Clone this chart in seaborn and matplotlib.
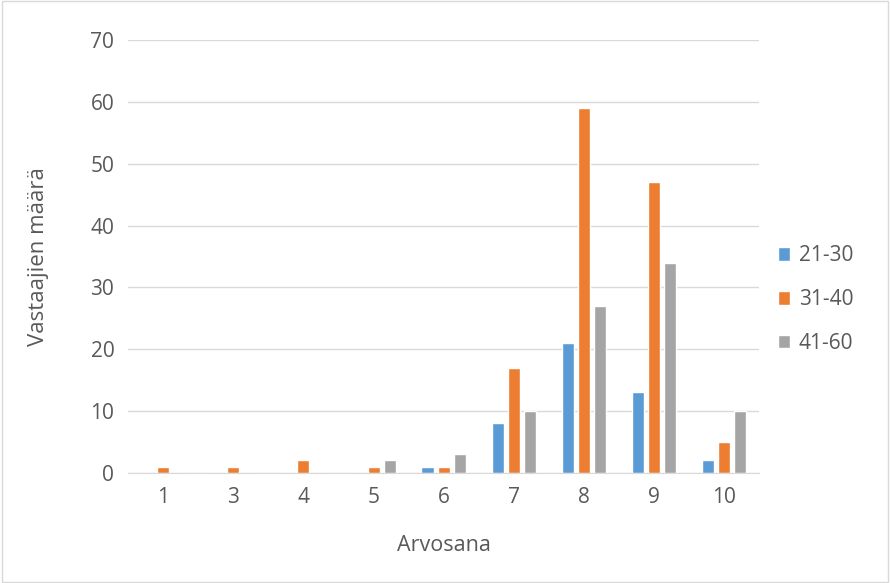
import pandas as pd
import matplotlib.pyplot as plt
import seaborn as sns
from matplotlib.patches import Rectangle

# Data
grades = ['1', '3', '4', '5', '6', '7', '8', '9', '10']
age_21_30 = [0, 0, 0, 0, 1, 8, 21, 13, 2]
age_31_40 = [1, 1, 2, 1, 1, 17, 59, 47, 5]
age_41_60 = [0, 0, 0, 2, 3, 10, 27, 34, 10]
groups = ['21-30', '31-40', '41-60']
colors = ['#5B9BD5', '#ED7D31', '#A5A5A5']

df = pd.DataFrame({
    'Arvosana': grades * 3,
    'Ryhmä': [g for g in groups for _ in grades],
    'Määrä': age_21_30 + age_31_40 + age_41_60,
})

sns.set_style('white')
plt.rcParams['font.family'] = ['Open Sans', 'DejaVu Sans']

fig = plt.figure(figsize=(8.9, 5.83), dpi=100)
ax = fig.add_axes([0.144, 0.189, 0.709, 0.742])

sns.barplot(data=df, x='Arvosana', y='Määrä', hue='Ryhmä', order=grades,
            hue_order=groups, palette=colors, width=0.69, gap=0.25,
            saturation=1, ax=ax, legend=True)

ax.set_ylim(0, 70)
ax.set_yticks(range(0, 71, 10))
ax.yaxis.grid(True, color='#d9d9d9', linewidth=1)
ax.set_axisbelow(True)
for side in ['left', 'right', 'top']:
    ax.spines[side].set_visible(False)
ax.spines['bottom'].set_color('#d9d9d9')
ax.tick_params(axis='both', length=0, labelsize=15, colors='#595959')
ax.tick_params(axis='y', pad=10)
ax.tick_params(axis='x', pad=10)
ax.set_xlabel('Arvosana', fontsize=15.5, color='#595959', labelpad=20)
ax.set_ylabel('Vastaajien määrä', fontsize=16, color='#595959', labelpad=30)

ax.legend(loc='center left', bbox_to_anchor=(1.0, 0.40), frameon=False,
          fontsize=15, labelcolor='#595959', handlelength=0.6,
          handleheight=0.6, handletextpad=0.4, labelspacing=1.1)

fig.patches.append(Rectangle((0.002, 0.002), 0.996, 0.996, transform=fig.transFigure,
                             fill=False, edgecolor='#d9d9d9', linewidth=1))

plt.savefig('out.png', dpi=100)
plt.close()
